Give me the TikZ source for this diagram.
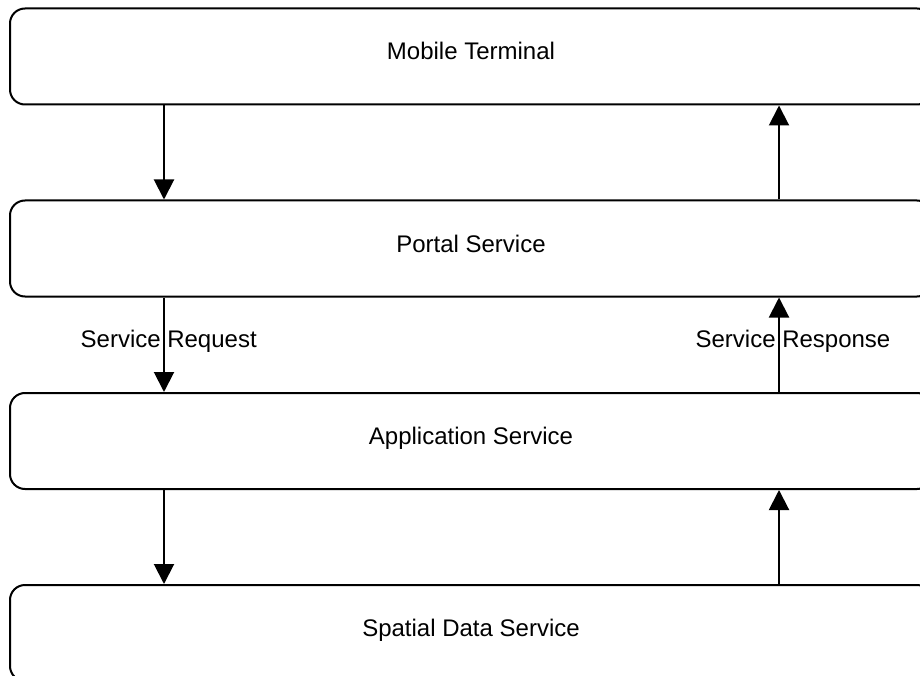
\documentclass[tikz,border=0pt]{standalone}
\usepackage{fontspec}
\setmainfont{Liberation Sans}
\usetikzlibrary{arrows.meta,calc}
\begin{document}
\begin{tikzpicture}[x=1pt,y=-1pt,
  box/.style={draw, line width=2pt, rounded corners=15pt, minimum width=922pt,
    minimum height=96pt, text height=7pt, text depth=0pt, inner sep=0pt,
    font=\fontsize{24}{28}\selectfont},
  flow/.style={line width=2pt, -{Triangle[width=20pt,length=20pt]}},
  lbl/.style={font=\fontsize{24}{28}\selectfont, anchor=base, inner sep=0pt}]
\useasboundingbox (0,0) rectangle (920,676);
\clip (0,0) rectangle (920,676);
\node[box] (mt) at (471,56.5) {Mobile Terminal};
\node[box] (ps) at (471,248.5) {Portal Service};
\node[box] (as) at (471,441) {Application Service};
\node[box] (sd) at (471,633) {Spatial Data Service};
\coordinate (L) at (164,0);
\coordinate (R) at (779,0);
\draw[flow] (mt.south -| L) -- (ps.north -| L);
\draw[flow] (ps.south -| L) -- node[lbl, xshift=4.7pt, yshift=-3pt] (req) {Service Request} (as.north -| L);
\draw[flow] (as.south -| L) -- (sd.north -| L);
\draw[flow] (sd.north -| R) -- (as.south -| R);
\draw[flow] (as.north -| R) -- node[lbl, xshift=14pt, yshift=-3pt] (resp) {Service Response} (ps.south -| R);
\draw[flow] (ps.north -| R) -- (mt.south -| R);
\end{tikzpicture}
\end{document}
